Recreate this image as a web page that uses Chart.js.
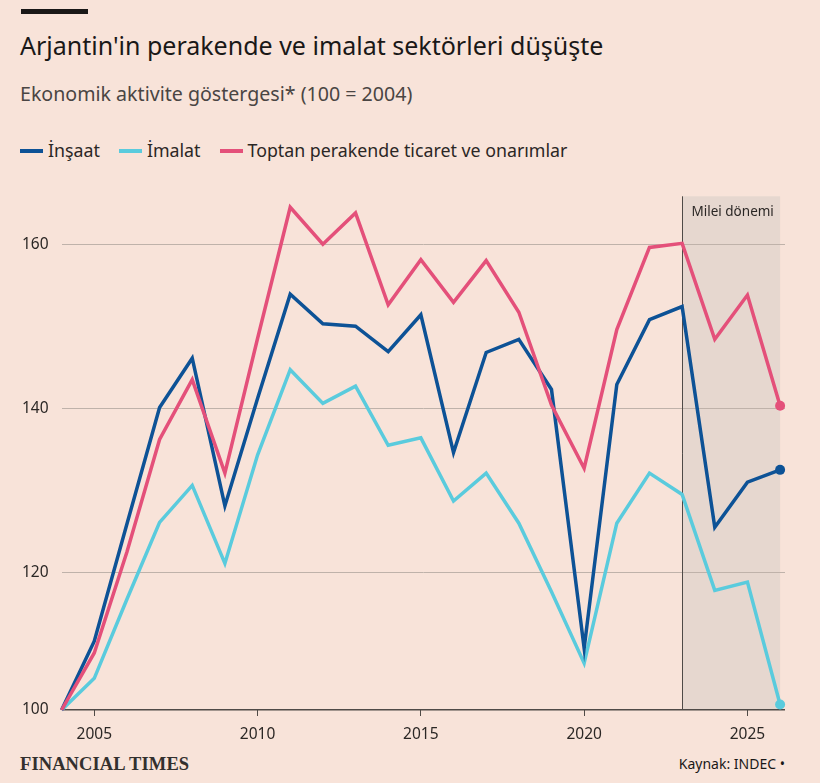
<!DOCTYPE html>
<html lang="tr">
<head>
<meta charset="utf-8">
<script src="https://cdn.jsdelivr.net/npm/chart.js@4.4.1/dist/chart.umd.min.js"></script>
<style>
  html, body { margin: 0; padding: 0; }
  body {
    width: 820px; height: 783px; position: relative; overflow: hidden;
    background: #f8e3d9; color: #1a1817;
    font-family: "Noto Sans", "Open Sans", sans-serif;
  }
  .bar { position: absolute; left: 21px; top: 9px; width: 67px; height: 5px; background: #1a1817; }
  .title { position: absolute; left: 20px; top: 28px; font-size: 25px; line-height: 34px; white-space: nowrap; }
  .subtitle { position: absolute; left: 20px; top: 81px; font-size: 19.6px; line-height: 26px; color: #4a4543; white-space: nowrap; }
  .legend { position: absolute; left: 20px; top: 138px; font-size: 17.8px; line-height: 24px; color: #2b2725; white-space: nowrap; }
  .legend span.item { margin-right: 19px; }
  .legend i { display: inline-block; width: 23px; height: 4px; vertical-align: middle; margin-right: 5px; position: relative; top: -1px; }
  .ft { position: absolute; left: 20px; top: 754px; font-family: "Liberation Serif", "DejaVu Serif", serif; font-size: 18.5px; font-weight: bold; letter-spacing: 0.1px; color: #33302e; }
  .source { position: absolute; right: 35px; top: 754px; font-size: 14px; color: #1a1817; }
  #wrap { position: absolute; left: 0; top: 174px; width: 820px; height: 576px; }
</style>
</head>
<body>
<div class="bar"></div>
<div class="title">Arjantin'in perakende ve imalat sektörleri düşüşte</div>
<div class="subtitle">Ekonomik aktivite göstergesi* (100 = 2004)</div>
<div class="legend" id="legend"></div>
<div id="wrap"><canvas id="chart"></canvas></div>
<div class="ft">FINANCIAL TIMES</div>
<div class="source">Kaynak: INDEC •</div>
<script>
const years = [2004, 2005, 2006, 2007, 2008, 2009, 2010, 2011, 2012, 2013, 2014, 2015,
  2016, 2017, 2018, 2019, 2020, 2021, 2022, 2023, 2024, 2025, 2026];
const insaat = [100, 110, 125.9, 140.1, 146.1, 128.1, 141.2, 153.9, 150.3, 150.0, 146.9, 151.4,
  134.6, 146.8, 148.4, 142.3, 109.0, 142.9, 150.8, 152.4, 125.5, 131.0, 132.5];
const imalat = [100, 104.6, 116.1, 126.1, 130.6, 121.1, 134.3, 144.7, 140.6, 142.7, 135.5, 136.4,
  128.7, 132.1, 126.0, 117.2, 106.8, 126.0, 132.1, 129.5, 117.4, 118.6, 100.8];
const ticaret = [100, 108.3, 122.5, 136.2, 143.5, 132.1, 148.5, 164.5, 160.0, 163.8, 152.6, 158.1,
  152.9, 158.0, 151.7, 140.4, 132.7, 149.6, 159.6, 160.1, 148.4, 153.8, 140.3];
const xTicks = [2005, 2010, 2015, 2020, 2025];
const yTicks = [100, 120, 140, 160];
const mileiStart = 2023;
const mileiEnd = 2026;

const colors = { insaat: "#0d5296", imalat: "#5acbdd", ticaret: "#e4507a" };
const series = [
  { label: "İnşaat", data: insaat, color: colors.insaat },
  { label: "İmalat", data: imalat, color: colors.imalat },
  { label: "Toptan perakende ticaret ve onarımlar", data: ticaret, color: colors.ticaret }
];

document.getElementById("legend").innerHTML = series
  .map((s) => `<span class="item"><i style="background:${s.color}"></i>${s.label}</span>`)
  .join("");

// the picture squeezes the 100-120 band compared with the rest of the axis
const squeeze = 0.838;
const bend = (v) => (v >= 120 ? v : 120 - (120 - v) * squeeze);
const unbend = (v) => (v >= 120 ? v : 120 - (120 - v) / squeeze);

class BentScale extends Chart.LinearScale {
  getPixelForValue(value) {
    const lo = bend(this.min), hi = bend(this.max);
    return this.getPixelForDecimal((bend(value) - lo) / (hi - lo));
  }
  getValueForPixel(pixel) {
    const lo = bend(this.min), hi = bend(this.max);
    return unbend(lo + this.getDecimalForPixel(pixel) * (hi - lo));
  }
}
BentScale.id = "bent";
BentScale.defaults = Chart.LinearScale.defaults;
Chart.register(BentScale);

const mileiPlugin = {
  id: "milei",
  beforeDraw(chart) {
    const { ctx, chartArea, scales } = chart;
    const x0 = scales.x.getPixelForValue(mileiStart);
    const x1 = scales.x.getPixelForValue(mileiEnd);
    ctx.save();
    ctx.fillStyle = "#e6d7cf";
    ctx.fillRect(x0, chartArea.top, x1 - x0, chartArea.bottom - chartArea.top);
    ctx.restore();
  },
  beforeDatasetsDraw(chart) {
    const { ctx, chartArea, scales } = chart;
    const x0 = Math.round(scales.x.getPixelForValue(mileiStart)) + 0.5;
    ctx.save();
    ctx.strokeStyle = "#4f4a47";
    ctx.lineWidth = 1;
    ctx.beginPath();
    ctx.moveTo(x0, chartArea.top);
    ctx.lineTo(x0, chartArea.bottom);
    ctx.stroke();
    ctx.fillStyle = "#2b2725";
    ctx.font = "13.5px 'Noto Sans', sans-serif";
    ctx.textBaseline = "middle";
    ctx.fillText("Milei dönemi", x0 + 9, chartArea.top + 16);
    ctx.restore();
  }
};

const lastOnly = (arr, r) => arr.map((_, i) => (i === arr.length - 1 ? r : 0));

Chart.defaults.font.family = "'Noto Sans', 'Open Sans', sans-serif";

new Chart(document.getElementById("chart"), {
  type: "line",
  data: {
    datasets: [series[2], series[0], series[1]].map((s) => ({
      label: s.label,
      data: years.map((y, i) => ({ x: y, y: s.data[i] })),
      borderColor: s.color,
      backgroundColor: s.color,
      borderWidth: 3.5,
      pointRadius: lastOnly(years, 5),
      pointBorderWidth: 0,
      pointHoverRadius: 5,
      tension: 0,
      clip: 8
    }))
  },
  options: {
    responsive: true,
    maintainAspectRatio: false,
    animation: false,
    layout: { padding: { top: 6, right: 35, left: 0, bottom: 0 } },
    plugins: { legend: { display: false }, tooltip: { enabled: false } },
    scales: {
      x: {
        type: "linear",
        min: 2004,
        max: 2026.15,
        afterBuildTicks(scale) { scale.ticks = xTicks.map((v) => ({ value: v })); },
        afterFit(scale) { scale.height = 40; },
        border: { display: false },
        grid: { drawOnChartArea: false, drawTicks: true, tickLength: 6, color: "#4f4a47" },
        ticks: { color: "#2b2725", font: { size: 15.5 }, padding: 9, maxRotation: 0, callback: (v) => String(v) }
      },
      y: {
        type: "bent",
        min: 100,
        max: 165.83,
        afterBuildTicks(scale) { scale.ticks = yTicks.map((v) => ({ value: v })); },
        afterFit(scale) { scale.width = 61.6; },
        border: { display: false },
        grid: {
          drawTicks: false,
          color: (c) => (c.tick && c.tick.value === 100 ? "#4f4a47" : "#bfb2aa"),
          lineWidth: (c) => (c.tick && c.tick.value === 100 ? 1.5 : 1)
        },
        ticks: { color: "#2b2725", font: { size: 15.5 }, padding: 13 }
      }
    }
  },
  plugins: [mileiPlugin]
});
</script>
</body>
</html>
